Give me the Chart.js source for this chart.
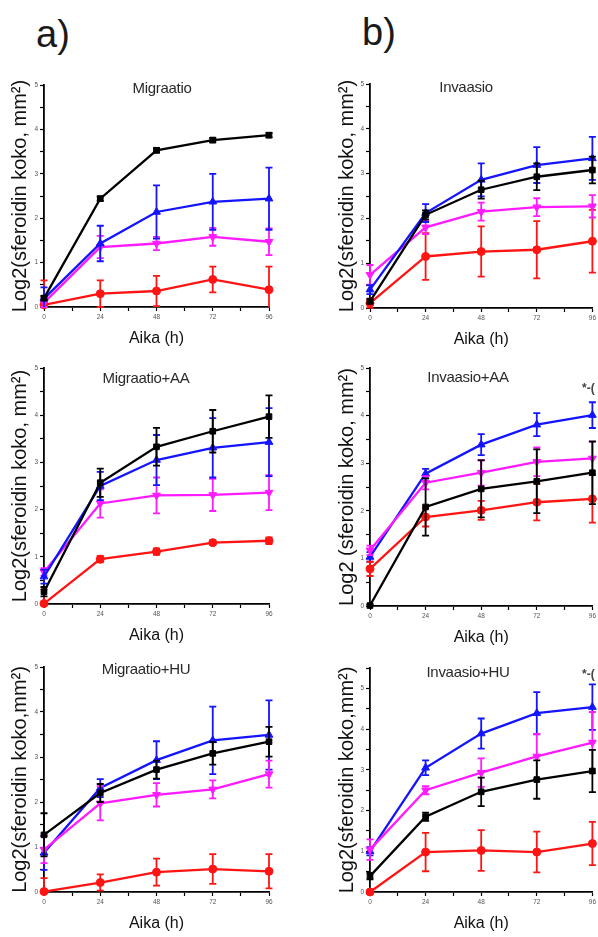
<!DOCTYPE html>
<html><head><meta charset="utf-8">
<script src="https://cdn.jsdelivr.net/npm/chart.js@4"></script>
<style>
html,body{margin:0;padding:0;background:#fff;}
body{width:598px;height:937px;position:relative;overflow:hidden;font-family:"Liberation Sans",Arial,sans-serif;}
.c{position:absolute;}
.lbl{position:absolute;font-size:38px;color:#1a1a1a;line-height:1;}
.ttl{position:absolute;font-size:15px;color:#2a2a2a;transform:translate(-50%,-50%);white-space:nowrap;letter-spacing:-0.3px;}
.star{position:absolute;font-size:12px;color:#444;font-weight:bold;white-space:nowrap;}
</style></head><body>
<div class="lbl" style="left:36px;top:15px;">a)</div>
<div class="lbl" style="left:362px;top:13px;">b)</div>
<canvas id="a1" class="c"></canvas>
<canvas id="b1" class="c"></canvas>
<canvas id="a2" class="c"></canvas>
<canvas id="b2" class="c"></canvas>
<canvas id="a3" class="c"></canvas>
<canvas id="b3" class="c"></canvas>
<div class="ttl" style="left:162px;top:87px;">Migraatio</div>
<div class="ttl" style="left:466px;top:86px;">Invaasio</div>
<div class="ttl" style="left:146px;top:377px;">Migraatio+AA</div>
<div class="ttl" style="left:468px;top:376px;">Invaasio+AA</div>
<div class="ttl" style="left:146px;top:668px;">Migraatio+HU</div>
<div class="ttl" style="left:468px;top:671px;">Invaasio+HU</div>
<div class="star" style="left:582px;top:381px;">*-(</div>
<div class="star" style="left:582px;top:667px;">*-(</div>
<script>
// ---- data ----
const hours = [0, 24, 48, 72, 96];
const xTickLabels = [0, 24, 48, 72, 96];
const yTickLabels = [0, 1, 2, 3, 4, 5];

// a) Migraatio
const migBlack = [0.20, 2.44, 3.53, 3.76, 3.87];
const migBlackErr = [0.05, 0.05, 0.05, 0.05, 0.05];
const migBlue = [0.19, 1.43, 2.14, 2.37, 2.44];
const migBlueErr = [0.25, 0.40, 0.60, 0.63, 0.70];
const migMagenta = [0.10, 1.35, 1.43, 1.58, 1.47];
const migMagentaErr = [0.10, 0.25, 0.15, 0.20, 0.30];
const migRed = [0.05, 0.30, 0.36, 0.62, 0.39];
const migRedErr = [0.55, 0.30, 0.34, 0.29, 0.52];

// b) Invaasio
const invBlack = [0.15, 2.08, 2.64, 2.93, 3.08];
const invBlackErr = [0.05, 0.10, 0.20, 0.30, 0.30];
const invBlue = [0.41, 2.12, 2.86, 3.19, 3.34];
const invBlueErr = [0.10, 0.20, 0.37, 0.40, 0.48];
const invMagenta = [0.74, 1.80, 2.15, 2.25, 2.27];
const invMagentaErr = [0.22, 0.15, 0.20, 0.20, 0.25];
const invRed = [0.11, 1.15, 1.26, 1.30, 1.49];
const invRedErr = [0.10, 0.52, 0.56, 0.64, 0.70];

// a) Migraatio+AA
const migAABlack = [0.26, 2.57, 3.33, 3.66, 3.97];
const migAABlackErr = [0.10, 0.30, 0.40, 0.45, 0.45];
const migAABlue = [0.58, 2.50, 3.05, 3.31, 3.43];
const migAABlueErr = [0.15, 0.30, 0.53, 0.63, 0.72];
const migAAMagenta = [0.68, 2.13, 2.30, 2.31, 2.36];
const migAAMagentaErr = [0.08, 0.30, 0.38, 0.34, 0.37];
const migAARed = [0.01, 0.95, 1.11, 1.30, 1.34];
const migAARedErr = [0.30, 0.07, 0.07, 0.04, 0.07];

// b) Invaasio+AA
const invAABlack = [0.01, 2.08, 2.46, 2.62, 2.80];
const invAABlackErr = [0.02, 0.60, 0.60, 0.67, 0.66];
const invAABlue = [1.03, 2.78, 3.39, 3.81, 4.01];
const invAABlueErr = [0.10, 0.10, 0.22, 0.24, 0.27];
const invAAMagenta = [1.17, 2.59, 2.80, 3.03, 3.10];
const invAAMagentaErr = [0.10, 0.14, 0.27, 0.30, 0.35];
const invAARed = [0.78, 1.87, 2.01, 2.18, 2.25];
const invAARedErr = [0.15, 0.20, 0.20, 0.38, 0.50];

// a) Migraatio+HU
const migHUBlack = [1.27, 2.20, 2.72, 3.08, 3.34];
const migHUBlackErr = [0.48, 0.20, 0.20, 0.25, 0.33];
const migHUBlue = [0.87, 2.31, 2.93, 3.37, 3.49];
const migHUBlueErr = [0.38, 0.20, 0.42, 0.75, 0.77];
const migHUMagenta = [0.94, 1.97, 2.16, 2.28, 2.62];
const migHUMagentaErr = [0.30, 0.38, 0.26, 0.20, 0.30];
const migHURed = [0.01, 0.21, 0.44, 0.51, 0.46];
const migHURedErr = [0.30, 0.18, 0.30, 0.33, 0.38];

// b) Invaasio+HU
const invHUBlack = [0.39, 1.85, 2.46, 2.76, 2.97];
const invHUBlackErr = [0.08, 0.10, 0.35, 0.47, 0.52];
const invHUBlue = [1.00, 3.05, 3.89, 4.39, 4.54];
const invHUBlueErr = [0.10, 0.18, 0.37, 0.52, 0.56];
const invHUMagenta = [1.04, 2.50, 2.93, 3.33, 3.67];
const invHUMagentaErr = [0.25, 0.10, 0.35, 0.55, 0.75];
const invHURed = [0.00, 0.98, 1.02, 0.98, 1.19];
const invHURedErr = [0.02, 0.47, 0.50, 0.50, 0.53];

// ---- styles ----
const STY = {
  black:   {color:'#000000', pointStyle:'rect', rotation:0, radius:4},
  blue:    {color:'#1414ff', pointStyle:'triangle', rotation:0, radius:4.5},
  magenta: {color:'#ff1aff', pointStyle:'triangle', rotation:180, radius:4.5},
  red:     {color:'#ff1414', pointStyle:'circle', rotation:0, radius:4}
};

const errorBars = {
  id:'errorBars',
  afterDatasetDraw(chart, args){
    const ds = chart.data.datasets[args.index];
    if(!ds.errors) return;
    const meta = args.meta, y = chart.scales.y, ctx = chart.ctx;
    ctx.save();
    ctx.strokeStyle = ds.borderColor;
    ctx.lineWidth = 1.8;
    meta.data.forEach((pt, i) => {
      const v = ds.data[i].y, e = ds.errors[i];
      const y1 = y.getPixelForValue(v + e), y2 = y.getPixelForValue(Math.max(v - e, y.min));
      const x = pt.x;
      ctx.beginPath();
      ctx.moveTo(x, y1); ctx.lineTo(x, y2);
      ctx.moveTo(x - 3.5, y1); ctx.lineTo(x + 3.5, y1);
      if (v - e >= y.min) { ctx.moveTo(x - 3.5, y2); ctx.lineTo(x + 3.5, y2); }
      ctx.stroke();
    });
    ctx.restore();
  }
};

function mkDs(key, vals, errs){
  const s = STY[key];
  return {
    data: hours.map((h, i) => ({x: h, y: vals[i]})),
    errors: errs,
    borderColor: s.color, backgroundColor: s.color,
    pointStyle: s.pointStyle, rotation: s.rotation, pointRadius: s.radius,
    pointBorderWidth: 1, borderWidth: 2.3, tension: 0, clip: false
  };
}

function panel(id, geom, series, yMax){
  const cv = document.getElementById(id);
  cv.style.left = geom.left + 'px';
  cv.style.top = geom.top + 'px';
  cv.width = geom.w; cv.height = geom.h;
  cv.style.width = geom.w + 'px'; cv.style.height = geom.h + 'px';
  new Chart(cv, {
    type: 'line',
    data: { datasets: series },
    options: {
      responsive: false, animation: false, devicePixelRatio: 1,
      layout: { padding: { top: geom.pt, right: geom.pr, left: 0, bottom: 0 } },
      plugins: { legend: { display: false }, tooltip: { enabled: false } },
      scales: {
        x: {
          type: 'linear', min: 0, max: 96,
          afterFit: s => { s.height = 45; },
          afterBuildTicks: s => { s.ticks = [0,12,24,36,48,60,72,84,96].map(v => ({value: v})); },
          ticks: { autoSkip: false, font: { size: 6.5, family: 'Liberation Sans' }, color: '#555', padding: 2,
                   maxRotation: 0, callback: v => (xTickLabels.includes(v) ? String(v) : '') },
          grid: { drawOnChartArea: false, drawTicks: true, tickLength: 4, tickColor: '#000', tickWidth: 1.2 },
          border: { display: true, color: '#000', width: 1.8 },
          title: { display: true, text: 'Aika (h)', color: '#111', font: { size: 16, family: 'Liberation Sans' }, padding: { top: 0, bottom: 4 } }
        },
        y: {
          type: 'linear', min: 0, max: yMax,
          afterFit: s => { s.width = geom.yw; },
          afterBuildTicks: s => { const t = []; for (let v = 0; v <= yMax + 1e-9; v += 0.5) t.push({value: Math.round(v*2)/2}); s.ticks = t; },
          ticks: { autoSkip: false, font: { size: 6.5, family: 'Liberation Sans' }, color: '#555', padding: 2,
                   callback: v => (yTickLabels.includes(v) ? String(v) : '') },
          grid: { drawOnChartArea: false, drawTicks: true, tickLength: 4, tickColor: '#000', tickWidth: 1.2 },
          border: { display: true, color: '#000', width: 1.8 },
          title: { display: true, text: geom.ytitle, color: '#111', font: { size: 20, family: 'Liberation Sans' }, padding: { top: geom.tp, bottom: 0 } }
        }
      }
    },
    plugins: [errorBars]
  });
}

const colA = { left: 0, w: 277, yw: 44, pr: 8, tp: 8 };
const colB = { left: 330, w: 268, yw: 40, pr: 5, tp: 5 };

panel('a1', Object.assign({}, colA, { top: 78, h: 274, pt: 7, ytitle: 'Log2(sferoidin koko, mm²)' }), [
  mkDs('black', migBlack, migBlackErr), mkDs('blue', migBlue, migBlueErr),
  mkDs('magenta', migMagenta, migMagentaErr), mkDs('red', migRed, migRedErr)], 5);
panel('b1', Object.assign({}, colB, { top: 77, h: 276, pt: 7, ytitle: 'Log2(sferoidin koko, mm²)' }), [
  mkDs('black', invBlack, invBlackErr), mkDs('blue', invBlue, invBlueErr),
  mkDs('magenta', invMagenta, invMagentaErr), mkDs('red', invRed, invRedErr)], 5);
panel('a2', Object.assign({}, colA, { top: 361, h: 288, pt: 7, ytitle: 'Log2(sferoidin koko, mm²)' }), [
  mkDs('black', migAABlack, migAABlackErr), mkDs('blue', migAABlue, migAABlueErr),
  mkDs('magenta', migAAMagenta, migAAMagentaErr), mkDs('red', migAARed, migAARedErr)], 5);
panel('b2', Object.assign({}, colB, { top: 361, h: 290, pt: 7, ytitle: 'Log2 (sferoidin koko, mm²)' }), [
  mkDs('black', invAABlack, invAABlackErr), mkDs('red', invAARed, invAARedErr),
  mkDs('magenta', invAAMagenta, invAAMagentaErr), mkDs('blue', invAABlue, invAABlueErr)], 5);
panel('a3', Object.assign({}, colA, { top: 660, h: 277, pt: 7, ytitle: 'Log2(sferoidin koko,mm²)' }), [
  mkDs('black', migHUBlack, migHUBlackErr), mkDs('magenta', migHUMagenta, migHUMagentaErr),
  mkDs('blue', migHUBlue, migHUBlueErr), mkDs('red', migHURed, migHURedErr)], 5);
panel('b3', Object.assign({}, colB, { top: 661, h: 276, pt: 7, ytitle: 'Log2(sferoidin koko,mm²)' }), [
  mkDs('black', invHUBlack, invHUBlackErr), mkDs('magenta', invHUMagenta, invHUMagentaErr),
  mkDs('blue', invHUBlue, invHUBlueErr), mkDs('red', invHURed, invHURedErr)], 5.5);
</script>
</body></html>
